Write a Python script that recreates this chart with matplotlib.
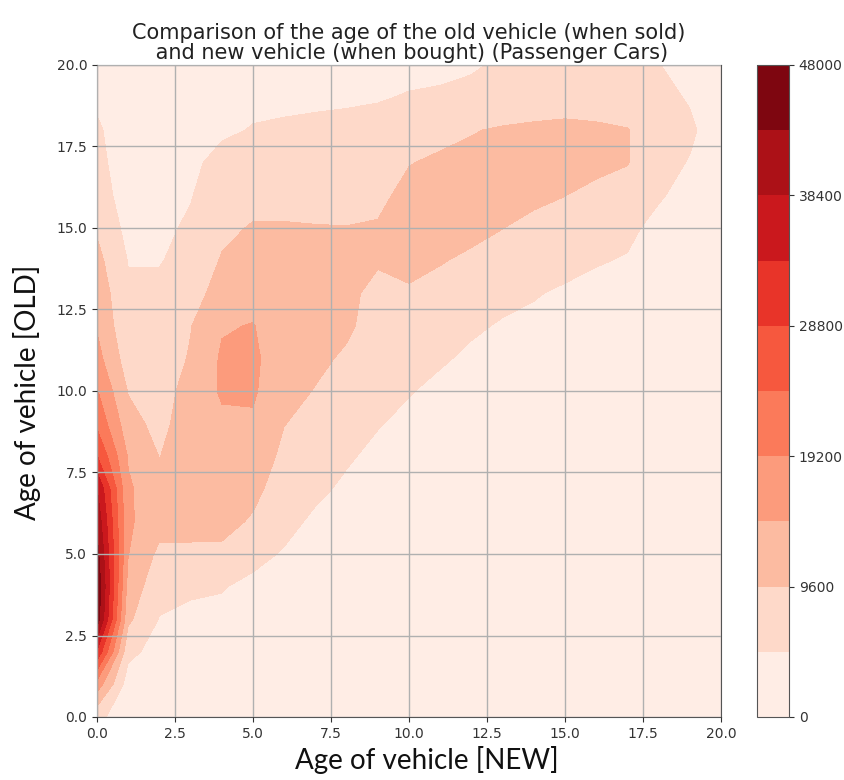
import numpy as np
import matplotlib
matplotlib.use("Agg")
import matplotlib.pyplot as plt

# ---- data ----
age_new = list(range(21))          # x: age of the new vehicle
age_old = list(range(21))          # y: age of the old vehicle
# estimated counts (thousands); one list per new-vehicle age, values along old-vehicle age 0..20
counts_k_by_new_age = [
    [6, 17, 33, 46, 47.5, 45, 42, 38.6, 29, 23, 19.5, 16, 14, 12.5, 11, 9, 7.5, 6.5, 5.6, 3.8, 2.5],
    [2, 2.5, 6, 10.5, 12.5, 14.5, 15.1, 15.0, 14.0, 11.5, 9.3, 7.2, 5.8, 5.6, 4.6, 3.4, 2.2, 1.5, 1.5, 1.5, 1.5],
    [1.0, 1.5, 3.0, 4.6, 6.5, 8.5, 11.5, 11.5, 9.5, 8.0, 8.0, 7.0, 6.5, 5.6, 4.6, 4.0, 3.5, 3.0, 2.5, 2.0, 1.5],
    [1.0, 1.5, 2.5, 3.8, 5.5, 8.5, 11.5, 12.0, 12.0, 12.5, 11.0, 10.0, 9.4, 7.5, 6.0, 5.33, 4.6, 4.0, 3.5, 3.0, 2.5],
    [1.0, 1.5, 2.5, 4.0, 5.0, 8.5, 11.3, 12.0, 12.5, 13.5, 15.0, 15.0, 14.0, 11.7, 10.0, 8.5, 7.0, 6.0, 4.2, 3.5, 3.0],
    [1.0, 1.5, 2.2, 3.0, 4.0, 5.8, 9.0, 11.0, 12.5, 13.8, 15.0, 15.5, 14.6, 12.6, 11.0, 10.0, 8.0, 6.5, 5.0, 4.0, 3.5],
    [1.0, 1.2, 1.8, 2.5, 3.5, 4.5, 5.8, 7.0, 8.5, 9.7, 11.0, 11.0, 11.5, 11.5, 11.0, 10.0, 8.0, 6.5, 5.2, 4.2, 3.5],
    [0.8, 1.0, 1.5, 2.2, 3.0, 3.6, 4.2, 5.5, 7.0, 8.3, 9.4, 10.5, 11.0, 11.0, 10.8, 9.8, 8.0, 6.5, 5.4, 4.3, 3.5],
    [0.7, 0.9, 1.3, 1.8, 2.5, 3.0, 3.6, 4.2, 5.2, 6.5, 7.8, 9.0, 10.3, 10.5, 10.5, 9.7, 8.2, 6.8, 5.6, 4.4, 3.6],
    [0.6, 0.8, 1.1, 1.5, 2.0, 2.5, 3.0, 3.5, 4.0, 5.0, 6.0, 7.0, 7.8, 8.5, 10.0, 10.0, 8.5, 7.0, 5.8, 4.6, 3.8],
    [0.5, 0.7, 1.0, 1.3, 1.8, 2.2, 2.7, 3.2, 3.6, 4.0, 5.0, 6.0, 7.5, 9.0, 11.0, 11.5, 11.0, 9.4, 7.0, 5.0, 4.0],
    [0.5, 0.6, 0.9, 1.2, 1.5, 1.9, 2.3, 2.7, 3.2, 3.6, 4.0, 5.2, 6.8, 8.5, 9.8, 11.0, 11.5, 10.5, 8.0, 5.4, 3.8],
    [0.4, 0.5, 0.8, 1.0, 1.3, 1.6, 2.0, 2.4, 2.8, 3.2, 3.7, 4.2, 5.3, 7.0, 9.0, 10.5, 12.0, 10.5, 9.4, 5.5, 4.5],
    [0.3, 0.4, 0.6, 0.8, 1.1, 1.4, 1.7, 2.1, 2.5, 2.9, 3.4, 3.9, 4.5, 5.7, 8.0, 9.65, 11.5, 12.0, 10.0, 7.0, 5.2],
    [0.3, 0.4, 0.5, 0.7, 0.9, 1.2, 1.5, 1.8, 2.2, 2.6, 3.1, 3.6, 4.2, 5.0, 6.5, 8.5, 10.5, 12.0, 10.5, 7.0, 5.5],
    [0.2, 0.3, 0.5, 0.6, 0.8, 1.0, 1.3, 1.6, 2.0, 2.4, 2.8, 3.3, 3.8, 4.4, 5.7, 8.0, 9.65, 11.5, 11.0, 7.0, 5.5],
    [0.2, 0.3, 0.4, 0.5, 0.7, 0.9, 1.1, 1.4, 1.7, 2.1, 2.5, 3.0, 3.5, 4.0, 5.0, 6.5, 8.5, 10.7, 10.5, 7.0, 5.5],
    [0.2, 0.2, 0.3, 0.4, 0.6, 0.8, 1.0, 1.2, 1.5, 1.8, 2.2, 2.6, 3.1, 3.8, 4.6, 5.4, 7.5, 9.8, 9.8, 7.0, 5.4],
    [0.1, 0.2, 0.3, 0.4, 0.5, 0.6, 0.8, 1.0, 1.2, 1.5, 1.8, 2.2, 2.6, 3.0, 3.5, 4.0, 5.1, 6.0, 6.5, 5.8, 4.9],
    [0.1, 0.1, 0.2, 0.3, 0.4, 0.5, 0.6, 0.8, 1.0, 1.2, 1.4, 1.7, 2.0, 2.4, 2.8, 3.2, 3.8, 4.6, 5.4, 4.5, 3.5],
    [0.1, 0.1, 0.1, 0.2, 0.3, 0.3, 0.4, 0.5, 0.6, 0.7, 0.9, 1.1, 1.3, 1.5, 1.8, 2.1, 2.4, 2.7, 2.8, 2.5, 2.0],
]
level_max = 48000
n_levels = 10
cbar_ticks = [0, 9600, 19200, 28800, 38400, 48000]

title = "Comparison of the age of the old vehicle (when sold)\n and new vehicle (when bought) (Passenger Cars)"
xlabel = "Age of vehicle [NEW]"
ylabel = "Age of vehicle [OLD]"

# ---- figure ----
W, H = 845, 780
fig = plt.figure(figsize=(W / 100, H / 100), dpi=100)
ax = fig.add_axes([97 / W, 1 - 717 / H, 624 / W, 652 / H])
cax = fig.add_axes([757 / W, 1 - 717 / H, 32 / W, 652 / H])

X, Y = np.meshgrid(age_new, age_old)
Z = np.array(counts_k_by_new_age, dtype=float).T * 1000.0
levels = np.linspace(0, level_max, n_levels + 1)
cs = ax.contourf(X, Y, Z, levels=levels, cmap="Reds")

ax.set_xlim(0, 20)
ax.set_ylim(0, 20)
ax.set_xticks(np.arange(0, 20.01, 2.5))
ax.set_yticks(np.arange(0, 20.01, 2.5))
ax.tick_params(labelsize=10, colors="#333333")
ax.grid(True, color="#b0b0b0", linewidth=1.0)
ax.set_axisbelow(False)
for s in ax.spines.values():
    s.set_color("#555555")

ax.set_title(title, fontsize=15, pad=4, color="#222222", linespacing=1.05)

cb = fig.colorbar(cs, cax=cax, ticks=cbar_ticks)
cb.ax.tick_params(labelsize=10, colors="#333333")
cb.outline.set_edgecolor("#555555")

fig.text(427 / W, 1 - 760 / H, xlabel, ha="center", va="center",
         fontsize=20, family=["Lato", "DejaVu Sans"], color="#111111")
fig.text(27 / W, 1 - 392 / H, ylabel, ha="center", va="center", rotation=90,
         fontsize=20, family=["Lato", "DejaVu Sans"], color="#111111")

fig.savefig("out.png", dpi=100)
